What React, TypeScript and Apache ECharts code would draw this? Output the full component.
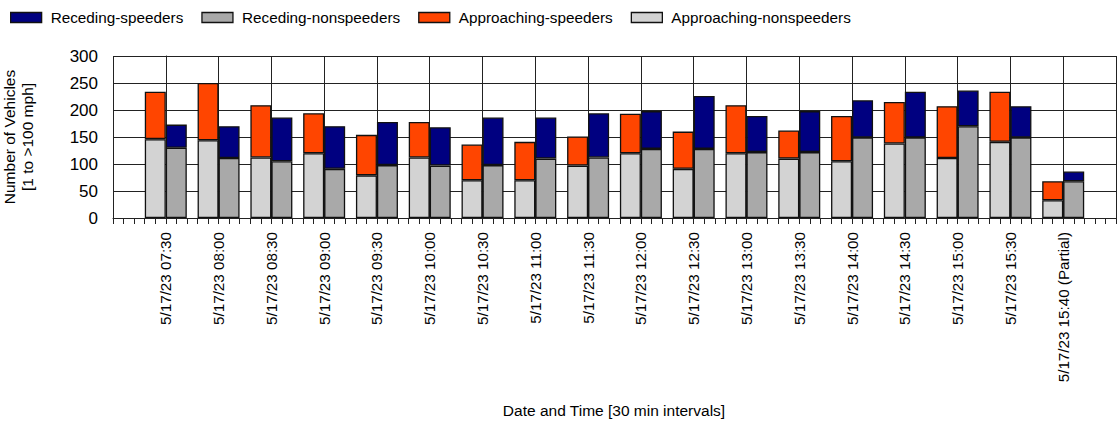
import React, { useEffect, useRef } from "react";
import * as echarts from "echarts";

const categories = [
  "5/17/23 07:30", "5/17/23 08:00", "5/17/23 08:30", "5/17/23 09:00", "5/17/23 09:30",
  "5/17/23 10:00", "5/17/23 10:30", "5/17/23 11:00", "5/17/23 11:30", "5/17/23 12:00",
  "5/17/23 12:30", "5/17/23 13:00", "5/17/23 13:30", "5/17/23 14:00", "5/17/23 14:30",
  "5/17/23 15:00", "5/17/23 15:30", "5/17/23 15:40 (Partial)",
];

const approachingNonspeeders = [146, 144, 112, 120, 79, 112, 70, 70, 97, 120, 91, 120, 110, 105, 138, 111, 141, 33];
const approachingSpeeders = [88, 106, 97, 74, 75, 66, 66, 71, 54, 73, 69, 89, 52, 84, 77, 96, 93, 35];
const recedingNonspeeders = [130, 111, 105, 91, 98, 97, 98, 110, 112, 128, 128, 122, 122, 149, 149, 170, 149, 68];
const recedingSpeeders = [43, 59, 81, 79, 80, 71, 88, 76, 82, 70, 98, 67, 76, 69, 85, 66, 58, 18];

const yTicks = [0, 50, 100, 150, 200, 250, 300];

const FONT = "'Liberation Sans', Arial, sans-serif";
const LINE = "#222222";

export default function App() {
  const ref = useRef<HTMLDivElement>(null);

  useEffect(() => {
    if (!ref.current) return;
    const chart = echarts.init(ref.current, null, { renderer: "svg" });
    // one empty slot on each side of the categories
    const axisCats = ["", ...categories, ""];
    const pad = (arr: number[]) => [null, ...arr, null];
    const barCommon = {
      type: "bar" as const,
      xAxisIndex: 0,
      barWidth: 21,
      barGap: "0%",
      itemStyle: { borderColor: "#111", borderWidth: 1.3 },
    };
    chart.setOption({
      animation: false,
      backgroundColor: "#ffffff",
      textStyle: { fontFamily: FONT, color: "#000" },
      legend: {
        left: 5,
        top: 5,
        itemWidth: 31,
        itemHeight: 10,
        itemGap: 18,
        icon: "rect",
        data: ["Receding-speeders", "Receding-nonspeeders", "Approaching-speeders", "Approaching-nonspeeders"],
        textStyle: { fontFamily: FONT, fontSize: 15.3, color: "#000", padding: [0, 0, 0, 4] },
        itemStyle: { borderColor: "#111", borderWidth: 1.3 },
      },
      grid: { left: 113, right: 2, top: 56, bottom: 205, containLabel: false },
      xAxis: [
        {
          type: "category",
          data: axisCats,
          boundaryGap: false,
          position: "bottom",
          axisLine: { show: true, lineStyle: { color: LINE, width: 1 } },
          axisTick: { show: true, length: 6, interval: 0, lineStyle: { color: LINE } },
          splitLine: { show: true, interval: 0, lineStyle: { color: LINE, width: 1 } },
          axisLabel: {
            rotate: 90,
            interval: 0,
            margin: 14,
            fontSize: 15.2,
            fontFamily: FONT,
            color: "#000",
          },
        },
        {
          type: "value",
          min: -1,
          max: categories.length,
          interval: 1,
          position: "bottom",
          axisLine: { show: false },
          axisLabel: { show: false },
          splitLine: { show: false },
          axisTick: { show: true, length: 6, lineStyle: { color: LINE } },
          minorTick: { show: true, splitNumber: 5, length: 6, lineStyle: { color: LINE } },
        },
      ],
      yAxis: {
        type: "value",
        min: yTicks[0],
        max: yTicks[yTicks.length - 1],
        interval: 50,
        axisLine: { show: true, lineStyle: { color: LINE, width: 1 } },
        axisTick: { show: true, length: 12, lineStyle: { color: LINE } },
        splitLine: { show: true, lineStyle: { color: LINE, width: 1 } },
        axisLabel: { margin: 15, fontSize: 17, fontFamily: FONT, color: "#000" },
      },
      graphic: [
        {
          type: "text",
          x: 18,
          y: 137,
          rotation: Math.PI / 2,
          style: {
            text: "Number of Vehicles\n[1 to >100 mph]",
            font: `15.5px ${FONT}`,
            fill: "#000",
            align: "center",
            verticalAlign: "middle",
            lineHeight: 18,
          },
        },
        {
          type: "text",
          x: 614,
          y: 410,
          style: {
            text: "Date and Time [30 min intervals]",
            font: `15.5px ${FONT}`,
            fill: "#000",
            align: "center",
            verticalAlign: "middle",
          },
        },
      ],
      series: [
        { ...barCommon, name: "Approaching-nonspeeders", stack: "A", color: "#D3D3D3", data: pad(approachingNonspeeders) },
        { ...barCommon, name: "Approaching-speeders", stack: "A", color: "#FF4500", data: pad(approachingSpeeders) },
        { ...barCommon, name: "Receding-nonspeeders", stack: "R", color: "#A9A9A9", data: pad(recedingNonspeeders) },
        { ...barCommon, name: "Receding-speeders", stack: "R", color: "#000080", data: pad(recedingSpeeders) },
      ],
    });
    return () => chart.dispose();
  }, []);

  return (
    <div
      ref={ref}
      style={{ position: "fixed", left: 0, top: 0, width: 1118, height: 423, background: "#fff" }}
    />
  );
}
